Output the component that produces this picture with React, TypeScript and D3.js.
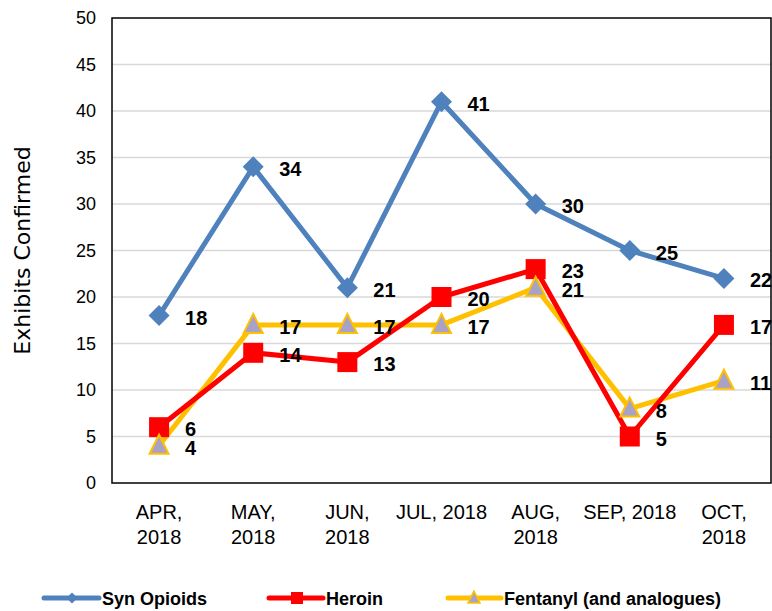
import React from "react";
import * as d3 from "d3";

const categories = [
  ["APR,", "2018"],
  ["MAY,", "2018"],
  ["JUN,", "2018"],
  ["JUL, 2018"],
  ["AUG,", "2018"],
  ["SEP, 2018"],
  ["OCT,", "2018"],
];
const synOpioids = [18, 34, 21, 41, 30, 25, 22];
const heroin = [6, 14, 13, 20, 23, 5, 17];
const fentanyl = [4, 17, 17, 17, 21, 8, 11];
const yTicks = [0, 5, 10, 15, 20, 25, 30, 35, 40, 45, 50];

const W = 772;
const H = 611;
const left = 112;
const right = 771;
const top = 18;
const bottom = 483;

const BLUE = "#4F81BD";
const RED = "#FF0000";
const GOLD = "#FFC000";
const LAV = "#A9A2C8";

export default function App() {
  const keys = categories.map((c) => c.join(" "));
  const x = d3.scalePoint<string>().domain(keys).range([left, right]).padding(0.5);
  const y = d3.scaleLinear().domain([0, 50]).range([bottom, top]);
  const line = d3
    .line<number>()
    .x((_, i) => x(keys[i]) as number)
    .y((d) => y(d));

  const tri = (cx: number, cy: number, s: number) =>
    `M${cx},${cy - s * 0.58}L${cx + s / 2},${cy + s * 0.42}L${cx - s / 2},${cy + s * 0.42}Z`;
  const dia = (cx: number, cy: number, s: number) =>
    `M${cx},${cy - s / 2}L${cx + s / 2},${cy}L${cx},${cy + s / 2}L${cx - s / 2},${cy}Z`;

  const labelStyle = {
    fontFamily: "'Liberation Sans', Arial, sans-serif",
    fontWeight: 700,
    fontSize: 20,
    fill: "#000",
  } as const;

  const labels = (vals: number[], key: string) =>
    vals.map((v, i) => (
      <text
        key={key + i}
        x={(x(keys[i]) as number) + 26}
        y={y(v) + 2}
        dominantBaseline="central"
        style={labelStyle}
      >
        {v}
      </text>
    ));

  return (
    <svg
      width={W}
      height={H}
      style={{ position: "absolute", left: 0, top: 0, background: "#fff" }}
    >
      <rect x={0} y={0} width={W} height={H} fill="#fff" />
      {/* gridlines */}
      {yTicks
        .filter((t) => t > 0 && t < 50)
        .map((t) => (
          <line key={t} x1={left} x2={right} y1={y(t)} y2={y(t)} stroke="#D9D9D9" strokeWidth={1.5} />
        ))}
      {/* plot border */}
      <rect
        x={left}
        y={top}
        width={right - left}
        height={bottom - top}
        fill="none"
        stroke="#000"
        strokeWidth={1.5}
      />
      {/* y tick labels */}
      {yTicks.map((t) => (
        <text
          key={"yt" + t}
          x={96}
          y={y(t)}
          textAnchor="end"
          dominantBaseline="central"
          style={{ fontFamily: "'Liberation Sans', Arial, sans-serif", fontSize: 18, fill: "#000" }}
        >
          {t}
        </text>
      ))}
      {/* x labels */}
      {categories.map((c, i) => (
        <text
          key={"xl" + i}
          x={x(keys[i]) as number}
          y={519}
          textAnchor="middle"
          style={{ fontFamily: "'Liberation Sans', Arial, sans-serif", fontSize: 20, fill: "#000" }}
        >
          {c.map((ln, j) => (
            <tspan key={j} x={x(keys[i]) as number} dy={j === 0 ? 0 : 25}>
              {ln}
            </tspan>
          ))}
        </text>
      ))}
      {/* axis title */}
      <text
        transform={`translate(30,${(top + bottom) / 2}) rotate(-90)`}
        textAnchor="middle"
        style={{ fontFamily: "'DejaVu Sans', sans-serif", fontSize: 22, fill: "#000" }}
      >
        Exhibits Confirmed
      </text>

      {/* Syn Opioids */}
      <path d={line(synOpioids) || ""} fill="none" stroke={BLUE} strokeWidth={5} strokeLinejoin="round" />
      {synOpioids.map((v, i) => (
        <path key={"sd" + i} d={dia(x(keys[i]) as number, y(v), 21)} fill={BLUE} />
      ))}
      {/* Fentanyl */}
      <path d={line(fentanyl) || ""} fill="none" stroke={GOLD} strokeWidth={5} strokeLinejoin="round" />
      {/* Heroin */}
      <path d={line(heroin) || ""} fill="none" stroke={RED} strokeWidth={5} strokeLinejoin="round" />
      {heroin.map((v, i) => (
        <rect key={"hs" + i} x={(x(keys[i]) as number) - 10} y={y(v) - 10} width={20} height={20} fill={RED} />
      ))}
      {fentanyl.map((v, i) => (
        <path
          key={"ft" + i}
          d={tri(x(keys[i]) as number, y(v), 19)}
          fill={LAV}
          stroke={GOLD}
          strokeWidth={2}
        />
      ))}

      {labels(synOpioids, "s")}
      {labels(heroin, "h")}
      {labels(fentanyl, "f")}

      {/* legend */}
      <g style={{ fontFamily: "'Liberation Sans', Arial, sans-serif", fontWeight: 700, fontSize: 18 }}>
        <line x1={44} x2={99} y1={598} y2={598} stroke={BLUE} strokeWidth={5} strokeLinecap="round" />
        <path d={dia(72, 598, 11)} fill={BLUE} />
        <text x={102} y={599} dominantBaseline="central">Syn Opioids</text>

        <line x1={269} x2={323} y1={598} y2={598} stroke={RED} strokeWidth={5} strokeLinecap="round" />
        <rect x={291} y={592} width={12} height={12} fill={RED} />
        <text x={326} y={599} dominantBaseline="central">Heroin</text>

        <line x1={448} x2={501} y1={598} y2={598} stroke={GOLD} strokeWidth={5} strokeLinecap="round" />
        <path d={tri(474, 598, 12)} fill={LAV} stroke={GOLD} strokeWidth={1.5} />
        <text x={504} y={599} dominantBaseline="central">Fentanyl (and analogues)</text>
      </g>
    </svg>
  );
}
